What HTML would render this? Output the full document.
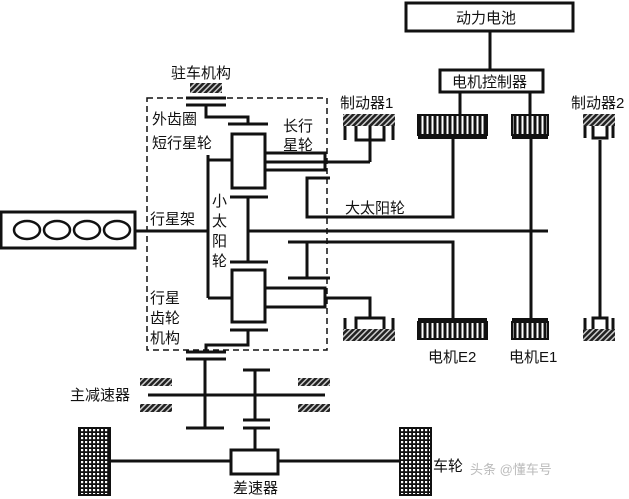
<!DOCTYPE html>
<html><head><meta charset="utf-8"><style>
html,body{margin:0;padding:0;background:#fff;}
svg{display:block}
text{font-family:"Liberation Sans","Noto Sans CJK SC",sans-serif;font-size:15px;fill:#111}
</style></head><body>
<svg width="629" height="499" viewBox="0 0 629 499" xmlns="http://www.w3.org/2000/svg">
<defs>
<pattern id="h" width="4" height="4" patternUnits="userSpaceOnUse" patternTransform="rotate(45)">
<rect width="4" height="4" fill="#222"/><rect width="1.5" height="4" fill="#ccc"/></pattern>
<pattern id="slot" width="5" height="10" patternUnits="userSpaceOnUse">
<rect width="5" height="10" fill="#111"/><rect x="1.5" y="0" width="2" height="10" fill="#fff"/></pattern>
<pattern id="grid" width="4" height="4" patternUnits="userSpaceOnUse">
<rect width="4" height="4" fill="#111"/><rect x="1" y="1" width="2.2" height="2.2" fill="#fff"/></pattern>
</defs>
<g stroke="#111" stroke-width="3" fill="none">
<rect x="406" y="3" width="167" height="28" stroke-width="3"/>
<line x1="490" y1="31" x2="490" y2="70"/>
<rect x="440" y="70" width="103" height="22"/>
<line x1="460" y1="92" x2="460" y2="115"/>
<line x1="530" y1="92" x2="530" y2="115"/>
<rect x="147" y="98" width="180" height="252" stroke-width="1.5" stroke-dasharray="6,4"/>
<line x1="186" y1="98" x2="226" y2="98"/>
<line x1="186" y1="105" x2="226" y2="105"/>
<polyline points="206,105 206,117 248,117 248,124"/>
<line x1="228" y1="124" x2="268" y2="124"/>
<rect x="232" y="134" width="33" height="54"/>
<line x1="208" y1="155" x2="208" y2="298"/>
<line x1="208" y1="160" x2="232" y2="160"/>
<line x1="208" y1="298" x2="232" y2="298"/>
<polyline points="265,153 325,153 325,170 265,170"/>
<line x1="265" y1="162" x2="370" y2="162"/>
<polyline points="370,162 370,140"/>
<polyline points="330,178 307,178 307,217 453,217 453,138"/>
<line x1="230" y1="197" x2="268" y2="197"/>
<line x1="248" y1="197" x2="248" y2="262"/>
<line x1="230" y1="262" x2="268" y2="262"/>
<line x1="135" y1="231" x2="208" y2="231"/>
<line x1="248" y1="231" x2="548" y2="231"/>
<line x1="288" y1="242" x2="307" y2="242"/>
<polyline points="307,278 307,242 453,242 453,318"/>
<line x1="288" y1="278" x2="330" y2="278"/>
<rect x="232" y="270" width="33" height="52"/>
<polyline points="265,288 325,288 325,307 265,307"/>
<polyline points="325,298 370,298 370,318"/>
<line x1="230" y1="330" x2="268" y2="330"/>
<polyline points="248,330 248,345 206,345 206,352"/>
<line x1="186" y1="352" x2="226" y2="352"/>
<line x1="186" y1="359" x2="226" y2="359"/>
<line x1="205" y1="359" x2="205" y2="428"/>
<line x1="186" y1="428" x2="224" y2="428"/>
<line x1="148" y1="395" x2="325" y2="395"/>
<line x1="243" y1="370" x2="270" y2="370"/>
<line x1="255" y1="370" x2="255" y2="420"/>
<line x1="243" y1="420" x2="270" y2="420"/>
<line x1="243" y1="428" x2="270" y2="428"/>
<line x1="255" y1="428" x2="255" y2="450"/>
<rect x="231" y="450" width="47" height="24"/>
<line x1="110" y1="461" x2="231" y2="461"/>
<line x1="278" y1="461" x2="400" y2="461"/>
<line x1="531" y1="138" x2="531" y2="318"/>
<line x1="600" y1="140" x2="600" y2="318"/>
<polyline points="345,115 345,140"/><polyline points="393,115 393,140"/>
<polyline points="356,125 356,140 384,140 384,125"/><line x1="370" y1="125" x2="370" y2="140"/>
<polyline points="345,318 345,340"/><polyline points="393,318 393,340"/>
<polyline points="356,330 356,318 384,318 384,330"/>
<polyline points="585,115 585,138"/><polyline points="613,115 613,138"/>
<polyline points="593,125 593,138 607,138 607,125"/>
<polyline points="585,318 585,340"/><polyline points="613,318 613,340"/>
<polyline points="593,330 593,318 607,318 607,330"/>
</g>
<rect x="1" y="212" width="134" height="36" fill="#fff" stroke="#111" stroke-width="3"/>
<g fill="#fff" stroke="#111" stroke-width="2.5">
<ellipse cx="27" cy="230" rx="13" ry="9"/><ellipse cx="57" cy="230" rx="13" ry="9"/>
<ellipse cx="87" cy="230" rx="13" ry="9"/><ellipse cx="117" cy="230" rx="13" ry="9"/>
</g>
<rect x="190" y="83" width="32" height="10" fill="url(#h)"/>
<rect x="343" y="114" width="52" height="12" fill="url(#h)"/>
<rect x="343" y="329" width="52" height="12" fill="url(#h)"/>
<rect x="583" y="114" width="32" height="12" fill="url(#h)"/>
<rect x="583" y="329" width="32" height="12" fill="url(#h)"/>
<rect x="140" y="378" width="32" height="8" fill="url(#h)"/>
<rect x="140" y="404" width="32" height="8" fill="url(#h)"/>
<rect x="298" y="378" width="32" height="8" fill="url(#h)"/>
<rect x="298" y="404" width="32" height="8" fill="url(#h)"/>
<rect x="418" y="115" width="69" height="20" fill="url(#slot)" stroke="#111" stroke-width="2"/>
<rect x="418" y="136" width="69" height="3" fill="#111"/>
<rect x="512" y="115" width="36" height="20" fill="url(#slot)" stroke="#111" stroke-width="2"/>
<rect x="512" y="136" width="36" height="3" fill="#111"/>
<rect x="418" y="318" width="69" height="3" fill="#111"/>
<rect x="418" y="322" width="69" height="17" fill="url(#slot)" stroke="#111" stroke-width="2"/>
<rect x="512" y="318" width="36" height="3" fill="#111"/>
<rect x="512" y="322" width="36" height="17" fill="url(#slot)" stroke="#111" stroke-width="2"/>
<rect x="79" y="428" width="31" height="67" fill="url(#grid)" stroke="#111" stroke-width="2"/>
<rect x="400" y="428" width="31" height="67" fill="url(#grid)" stroke="#111" stroke-width="2"/>
<text x="456" y="23">动力电池</text>
<text x="452" y="87">电机控制器</text>
<text x="171" y="78">驻车机构</text>
<text x="152" y="124">外齿圈</text>
<text x="152" y="148">短行星轮</text>
<text x="283" y="131">长行</text>
<text x="283" y="150">星轮</text>
<text x="340" y="108">制动器1</text>
<text x="571" y="108">制动器2</text>
<text x="345" y="213">大太阳轮</text>
<text x="150" y="224">行星架</text>
<text x="212" y="206">小</text>
<text x="212" y="226">太</text>
<text x="212" y="246">阳</text>
<text x="212" y="266">轮</text>
<text x="150" y="303">行星</text>
<text x="150" y="323">齿轮</text>
<text x="150" y="343">机构</text>
<text x="428" y="362">电机E2</text>
<text x="509" y="362">电机E1</text>
<text x="70" y="400">主减速器</text>
<text x="233" y="493">差速器</text>
<text x="433" y="471">车轮</text>
<text x="470" y="474" style="fill:#bbb;font-size:13px">头条 @懂车号</text>
</svg>
</body></html>
